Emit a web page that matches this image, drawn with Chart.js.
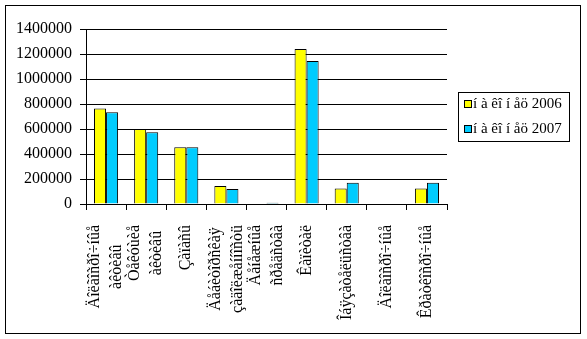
<!DOCTYPE html>
<html>
<head>
<meta charset="utf-8">
<script src="https://cdn.jsdelivr.net/npm/chart.js@4.4.0/dist/chart.umd.min.js"></script>
<style>
  html, body { margin: 0; padding: 0; background: #fff; }
</style>
</head>
<body>
<canvas id="balanceChart" width="587" height="339"></canvas>
<script>
// categories (multi-line labels) and the two yearly series
const categories = [
  ['Äîëãîñðî÷íûå', 'àêòèâû'],
  ['Òåêóùèå', 'àêòèâû'],
  ['Çàïàñû'],
  ['Äåáèòîðñêàÿ', 'çàäîëæåííîñòü'],
  ['Äåíåæíûå', 'ñðåäñòâà'],
  ['Êàïèòàë'],
  ['Îáÿçàòåëüñòâà'],
  ['Äîëãîñðî÷íûå'],
  ['Êðàòêîñðî÷íûå']
];
const seriesNames = ['í à êî í åö 2006', 'í à êî í åö 2007'];
const values2006 = [765000, 600000, 455000, 145000, 0, 1240000, 125000, 0, 125000];
const values2007 = [735000, 575000, 455000, 120000, 10000, 1145000, 170000, 0, 170000];
const yTicks = [0, 200000, 400000, 600000, 800000, 1000000, 1200000, 1400000];

const FONT = '"Liberation Serif", "Times New Roman", serif';

// white background + thin frame round the whole chart
const frame = {
  id: 'frame',
  beforeDraw(chart) {
    const ctx = chart.ctx;
    ctx.save();
    ctx.fillStyle = '#fff';
    ctx.fillRect(0, 0, chart.width, chart.height);
    ctx.strokeStyle = '#000';
    ctx.lineWidth = 1;
    ctx.strokeRect(5.5, 5.5, 575, 328);
    ctx.restore();
  }
};

// vertical category labels, lines centred on each other
const axisLabels = {
  id: 'axisLabels',
  afterDraw(chart) {
    const ctx = chart.ctx;
    const x = chart.scales.x;
    ctx.save();
    ctx.font = '16px ' + FONT;
    ctx.fillStyle = '#000';
    ctx.textAlign = 'center';
    ctx.textBaseline = 'middle';
    categories.forEach((lines, i) => {
      const cx = x.getPixelForValue(i);
      const longest = Math.max(...lines.map(t => ctx.measureText(t).width));
      const cy = x.top + 21 + longest / 2;
      ctx.save();
      ctx.translate(cx, cy);
      ctx.rotate(-Math.PI / 2);
      lines.forEach((t, j) => ctx.fillText(t, 0, (j - (lines.length - 1) / 2) * 22));
      ctx.restore();
    });
    ctx.restore();
  }
};

// boxed legend on the right
const legendBox = {
  id: 'legendBox',
  afterDraw(chart) {
    const ctx = chart.ctx;
    ctx.save();
    ctx.strokeStyle = '#000';
    ctx.lineWidth = 1;
    ctx.strokeRect(458.5, 92.5, 111, 49);
    ctx.font = '15px ' + FONT;
    ctx.textAlign = 'left';
    ctx.textBaseline = 'middle';
    chart.data.datasets.forEach((ds, i) => {
      const top = 100 + i * 25;
      ctx.fillStyle = ds.backgroundColor;
      ctx.fillRect(464.5, top + 0.5, 7, 7);
      ctx.strokeRect(464.5, top + 0.5, 7, 7);
      ctx.fillStyle = '#000';
      ctx.fillText(ds.label, 473, top + 4);
    });
    ctx.restore();
  }
};

const data = {
  labels: categories,
  datasets: [
    {
      label: seriesNames[0],
      data: values2006,
      backgroundColor: '#ffff00',
      borderColor: '#000',
      borderWidth: 1,
      categoryPercentage: 0.6,
      barPercentage: 1
    },
    {
      label: seriesNames[1],
      data: values2007,
      backgroundColor: '#00ccff',
      borderColor: '#000',
      borderWidth: 1,
      categoryPercentage: 0.6,
      barPercentage: 1
    }
  ]
};

const config = {
  type: 'bar',
  data: data,
  options: {
    responsive: false,
    animation: false,
    layout: { padding: { top: 29, right: 140, left: 0, bottom: 0 } },
    plugins: {
      legend: { display: false },
      tooltip: { enabled: false }
    },
    scales: {
      x: {
        offset: true,
        grid: { display: true, offset: true, drawOnChartArea: false, tickLength: 6, color: '#000' },
        border: { display: true, color: '#000', width: 1 },
        ticks: { display: false },
        afterFit: s => { s.height = 135; }
      },
      y: {
        min: 0,
        max: 1400000,
        afterBuildTicks: s => { s.ticks = yTicks.map(v => ({ value: v })); },
        grid: { color: '#000', tickLength: 6 },
        border: { display: true, color: '#000', width: 1 },
        ticks: {
          padding: 8,
          color: '#000',
          font: { family: FONT, size: 16 },
          callback: v => String(v)
        },
        afterFit: s => { s.width = 86; }
      }
    }
  },
  plugins: [frame, axisLabels, legendBox]
};

const balanceChart = new Chart(document.getElementById('balanceChart'), config);
</script>
</body>
</html>
